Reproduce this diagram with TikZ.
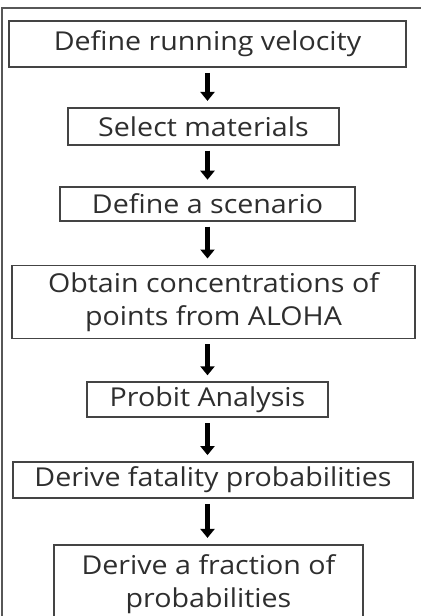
\documentclass[tikz,border=0pt]{standalone}
\usepackage{fontspec}
\setmainfont{Open Sans}[FakeStretch=1.1]
\usepackage{tikz}
\usetikzlibrary{positioning,arrows.meta}
\definecolor{boxgray}{HTML}{444444}
\definecolor{textgray}{HTML}{2E2E2E}
\newcommand{\stepfont}{\fontsize{26}{33}\selectfont}

\begin{document}
\begin{tikzpicture}[>={Triangle[length=9pt,width=14pt]}, x=1pt, y=1pt]
        \useasboundingbox (0,0) rectangle (421,-616);
        \tikzstyle{step box} = [draw=boxgray, line width=1.8pt, fill=white,
            rectangle, inner sep=0pt, text=textgray, align=center,
            font={\stepfont}]
        \tikzstyle{flowEdge} = [black, line width=5pt, ->,
            shorten <=5pt, shorten >=6pt]
        \tikzstyle{frame} = [draw=boxgray!90, line width=1.4pt]

        % outer frame (only left and top sides show)
        \draw[frame] (2,-616) -- (2,-8) -- (421,-8);

        \node[step box, minimum width=397pt, minimum height=46pt]
            (velocity) at (207.5,-44) {Define running velocity};
        \node[step box, minimum width=271pt, minimum height=37pt,
            below=39pt of velocity, xshift=-4pt] (materials) {Select materials};
        \node[step box, minimum width=295pt, minimum height=34pt,
            below=40pt of materials, xshift=4pt] (scenario) {Define a scenario};
        \node[step box, minimum width=403pt, minimum height=73pt,
            below=43pt of scenario, xshift=6pt] (aloha)
            {Obtain concentrations of\\points from ALOHA};
        \node[step box, minimum width=241pt, minimum height=35pt,
            below=42pt of aloha, xshift=-6pt] (probit) {Probit Analysis};
        \node[step box, minimum width=400pt, minimum height=36pt,
            below=43pt of probit, xshift=5.5pt] (fatality)
            {Derive fatality probabilities};
        \node[step box, minimum width=309pt, minimum height=79pt,
            below=45pt of fatality, xshift=-4.5pt] (fraction)
            {Derive a fraction of\\probabilities};

        \draw (velocity.south)
        edge[flowEdge] (materials.north -| velocity.south);
        \draw (materials.south -| velocity.south)
        edge[flowEdge] (scenario.north -| velocity.south);
        \draw (scenario.south -| velocity.south)
        edge[flowEdge] (aloha.north -| velocity.south);
        \draw (aloha.south -| velocity.south)
        edge[flowEdge] (probit.north -| velocity.south);
        \draw (probit.south -| velocity.south)
        edge[flowEdge] (fatality.north -| velocity.south);
        \draw (fatality.south -| velocity.south)
        edge[flowEdge] (fraction.north -| velocity.south);
    \end{tikzpicture}
\end{document}
